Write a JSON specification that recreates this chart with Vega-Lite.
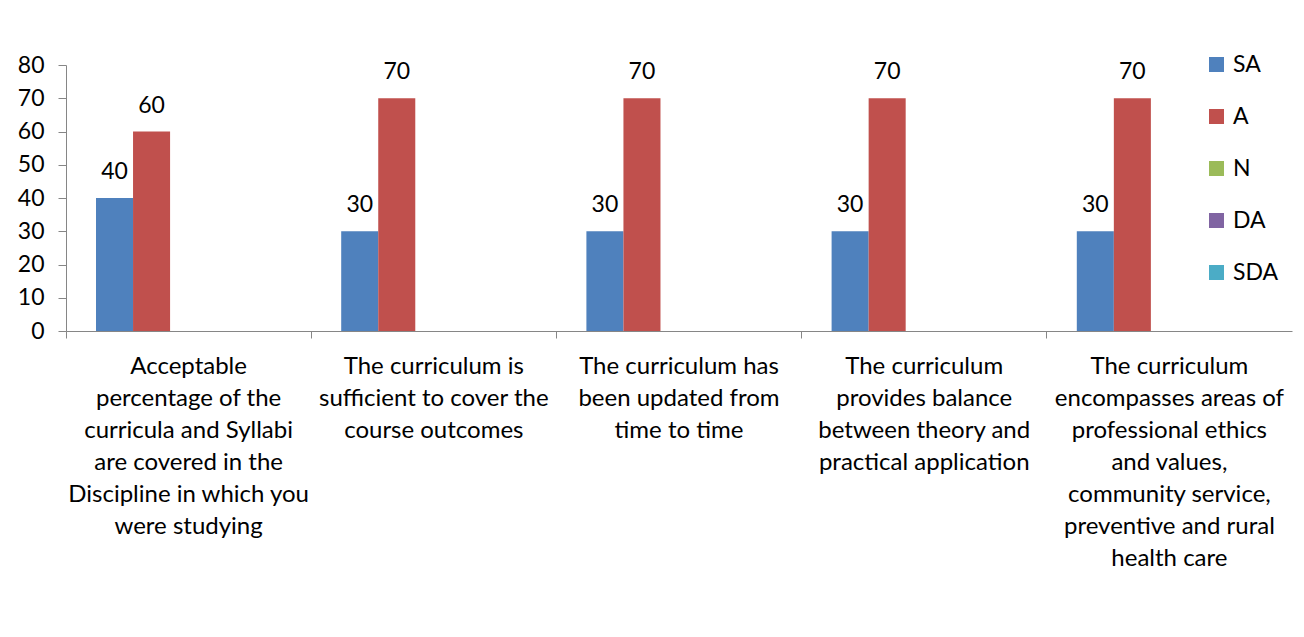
{
  "$schema": "https://vega.github.io/schema/vega-lite/v6.json",
  "width": 1226,
  "height": 266,
  "autosize": {"type": "none"},
  "padding": {"left": 66, "top": 65, "right": 12, "bottom": 306},
  "background": "white",
  "config": {
    "view": {"stroke": null},
    "font": "Lato",
    "axis": {"grid": false, "domainColor": "#868686", "tickColor": "#868686", "labelColor": "#000000", "labelFont": "Lato", "labelFontSize": 23, "titleFontSize": 0, "labelOverlap": false}
  },
  "data": {
    "values": [
      {"category": "Acceptable|percentage of the|curricula and Syllabi|are covered in the|Discipline in which you|were studying", "series": "SA", "value": 40},
      {"category": "Acceptable|percentage of the|curricula and Syllabi|are covered in the|Discipline in which you|were studying", "series": "A", "value": 60},
      {"category": "Acceptable|percentage of the|curricula and Syllabi|are covered in the|Discipline in which you|were studying", "series": "N", "value": 0},
      {"category": "Acceptable|percentage of the|curricula and Syllabi|are covered in the|Discipline in which you|were studying", "series": "DA", "value": 0},
      {"category": "Acceptable|percentage of the|curricula and Syllabi|are covered in the|Discipline in which you|were studying", "series": "SDA", "value": 0},
      {"category": "The curriculum is|sufficient to cover the|course outcomes", "series": "SA", "value": 30},
      {"category": "The curriculum is|sufficient to cover the|course outcomes", "series": "A", "value": 70},
      {"category": "The curriculum is|sufficient to cover the|course outcomes", "series": "N", "value": 0},
      {"category": "The curriculum is|sufficient to cover the|course outcomes", "series": "DA", "value": 0},
      {"category": "The curriculum is|sufficient to cover the|course outcomes", "series": "SDA", "value": 0},
      {"category": "The curriculum has|been updated from|time to time", "series": "SA", "value": 30},
      {"category": "The curriculum has|been updated from|time to time", "series": "A", "value": 70},
      {"category": "The curriculum has|been updated from|time to time", "series": "N", "value": 0},
      {"category": "The curriculum has|been updated from|time to time", "series": "DA", "value": 0},
      {"category": "The curriculum has|been updated from|time to time", "series": "SDA", "value": 0},
      {"category": "The curriculum|provides balance|between theory and|practical application", "series": "SA", "value": 30},
      {"category": "The curriculum|provides balance|between theory and|practical application", "series": "A", "value": 70},
      {"category": "The curriculum|provides balance|between theory and|practical application", "series": "N", "value": 0},
      {"category": "The curriculum|provides balance|between theory and|practical application", "series": "DA", "value": 0},
      {"category": "The curriculum|provides balance|between theory and|practical application", "series": "SDA", "value": 0},
      {"category": "The curriculum|encompasses  areas of|professional ethics|and values,|community service,|preventive and rural|health care", "series": "SA", "value": 30},
      {"category": "The curriculum|encompasses  areas of|professional ethics|and values,|community service,|preventive and rural|health care", "series": "A", "value": 70},
      {"category": "The curriculum|encompasses  areas of|professional ethics|and values,|community service,|preventive and rural|health care", "series": "N", "value": 0},
      {"category": "The curriculum|encompasses  areas of|professional ethics|and values,|community service,|preventive and rural|health care", "series": "DA", "value": 0},
      {"category": "The curriculum|encompasses  areas of|professional ethics|and values,|community service,|preventive and rural|health care", "series": "SDA", "value": 0}
    ]
  },
  "encoding": {
    "x": {"field": "category", "type": "nominal", "sort": null,
      "scale": {"paddingInner": 0, "paddingOuter": 0}},
    "xOffset": {"field": "series", "type": "nominal", "sort": ["SA", "A", "N", "DA", "SDA"],
      "scale": {"paddingInner": 0, "paddingOuter": 0.81}},
    "y": {"field": "value", "type": "quantitative", "scale": {"domain": [0, 80], "nice": false},
      "axis": {"title": null, "values": [0, 10, 20, 30, 40, 50, 60, 70, 80], "tickCount": 9, "tickSize": 8, "labelPadding": 14, "domain": true, "labelOverlap": false}}
  },
  "layer": [
    {
      "mark": {"type": "bar"},
      "encoding": {
        "x": {"field": "category", "type": "nominal", "sort": null,
          "axis": {"title": null, "orient": "bottom", "labelAngle": 0, "ticks": false, "domain": true, "labelExpr": "split(datum.label, '|')", "labelFontSize": 24, "labelLineHeight": 32, "labelPadding": 23, "labelBaseline": "top", "labelLimit": 0}},
        "color": {"field": "series", "type": "nominal",
          "scale": {"domain": ["SA", "A", "N", "DA", "SDA"], "range": ["#4F81BD", "#C0504D", "#9BBB59", "#8064A2", "#4BACC6"]},
          "legend": {"title": null, "orient": "none", "legendX": 1139, "legendY": -12, "symbolType": "square", "symbolSize": 225, "symbolStrokeWidth": 0, "labelFontSize": 23, "labelFont": "Lato", "labelOffset": 5, "rowPadding": 28, "labelColor": "#000000"}}
      }
    },
    {
      "transform": [{"filter": "datum.value > 0"}],
      "mark": {"type": "text", "baseline": "middle", "dy": -26, "fontSize": 23, "font": "Lato", "color": "#000000"},
      "encoding": {
        "x": {"field": "category", "type": "nominal", "sort": null,
          "axis": {"title": null, "orient": "bottom", "labels": false, "ticks": true, "tickSize": 7, "bandPosition": 0, "domain": false}},
        "text": {"field": "value", "type": "quantitative"}
      }
    }
  ],
  "resolve": {"axis": {"x": "independent"}}
}
